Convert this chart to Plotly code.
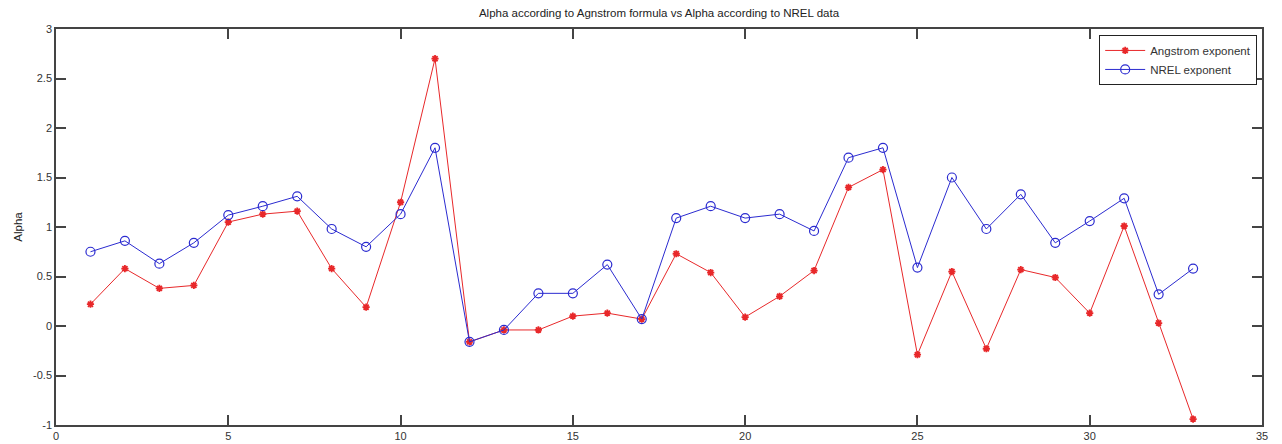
import plotly.graph_objects as go

x_index = list(range(1, 34))
angstrom = [0.22, 0.58, 0.38, 0.41, 1.05, 1.13, 1.16, 0.58, 0.19, 1.25, 2.70,
            -0.16, -0.04, -0.04, 0.10, 0.13, 0.07, 0.73, 0.54, 0.09, 0.30, 0.56,
            1.40, 1.58, -0.29, 0.55, -0.23, 0.57, 0.49, 0.13, 1.01, 0.03, -0.94]
nrel = [0.75, 0.86, 0.63, 0.84, 1.12, 1.21, 1.31, 0.98, 0.80, 1.13, 1.80,
        -0.16, -0.04, 0.33, 0.33, 0.62, 0.07, 1.09, 1.21, 1.09, 1.13, 0.96,
        1.70, 1.80, 0.59, 1.50, 0.98, 1.33, 0.84, 1.06, 1.29, 0.32, 0.58]
x_ticks = [0, 5, 10, 15, 20, 25, 30, 35]
y_ticks = [-1, -0.5, 0, 0.5, 1, 1.5, 2, 2.5, 3]
y_ticklabels = ["-1", "-0.5", "0", "0.5", "1", "1.5", "2", "2.5", "3"]

fig = go.Figure()
fig.add_trace(go.Scatter(
    x=x_index, y=angstrom, mode="lines+markers", name="Angstrom exponent",
    line=dict(color="#e8282a", width=1),
    marker=dict(symbol="asterisk-open", size=6, color="#e8282a",
                line=dict(color="#e8282a", width=1.8)),
))
fig.add_trace(go.Scatter(
    x=x_index, y=nrel, mode="lines+markers", name="NREL exponent",
    line=dict(color="#2b2bd0", width=1),
    marker=dict(symbol="circle-open", size=9, color="#2b2bd0",
                line=dict(color="#2b2bd0", width=1.2)),
))

axis_common = dict(
    showgrid=False, zeroline=False, showline=True, linecolor="#444",
    linewidth=1.5, mirror="ticks", ticks="inside", ticklen=10,
    tickcolor="#444", tickwidth=1.5, automargin=False,
    tickfont=dict(family="Liberation Sans, Arial", size=11, color="#333"),
)

fig.update_layout(
    width=1282, height=444,
    margin=dict(l=56, r=20, t=29, b=19),
    paper_bgcolor="white", plot_bgcolor="white",
    font=dict(family="Liberation Sans, Arial", size=11, color="#222"),
    title=dict(text="Alpha according to Agnstrom formula vs Alpha according to NREL data",
               x=(56 + 1262) / 2 / 1282, xanchor="center", xref="container",
               y=1 - 13 / 444, yanchor="middle", yref="container",
               font=dict(size=11.5, color="#222")),
    xaxis=dict(range=[0, 35], tickvals=x_ticks, **axis_common),
    yaxis=dict(range=[-1, 3], tickvals=y_ticks, ticktext=y_ticklabels,
               title=dict(text="Alpha", standoff=8, font=dict(size=11.5, color="#222")),
               **axis_common),
    legend=dict(x=0.996, y=0.985, xanchor="right", yanchor="top",
                bordercolor="#222", borderwidth=1, bgcolor="white",
                font=dict(size=11.5, color="#333"), tracegroupgap=0,
                itemwidth=40),
    showlegend=True,
)

fig.write_html("out.html")
